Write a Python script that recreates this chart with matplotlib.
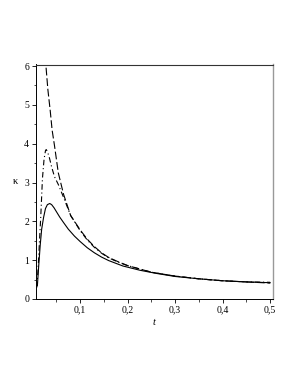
import matplotlib
matplotlib.use("Agg")
import matplotlib.pyplot as plt
from matplotlib.ticker import MultipleLocator, FuncFormatter

# κ(t) curves
t_solid = [0.010, 0.013, 0.016, 0.019, 0.023, 0.027, 0.031, 0.036, 0.040, 0.045,
           0.050, 0.057, 0.065, 0.075, 0.088, 0.100, 0.115, 0.130, 0.145, 0.160,
           0.190, 0.226, 0.260, 0.300, 0.350, 0.400, 0.450, 0.500]
k_solid = [0.35, 0.90, 1.40, 1.80, 2.10, 2.33, 2.43, 2.46, 2.43, 2.35,
           2.25, 2.11, 1.97, 1.80, 1.62, 1.48, 1.32, 1.19, 1.08, 0.99,
           0.85, 0.74, 0.66, 0.58, 0.52, 0.47, 0.44, 0.42]

t_dashdot = [0.009, 0.012, 0.0143, 0.017, 0.0206, 0.024, 0.027, 0.0285, 0.031, 0.035,
             0.040, 0.046, 0.054, 0.065, 0.080, 0.100, 0.115, 0.130, 0.145, 0.160,
             0.180, 0.200, 0.250, 0.300, 0.350, 0.400, 0.450, 0.500]
k_dashdot = [0.30, 0.90, 1.47, 2.10, 3.10, 3.60, 3.82, 3.85, 3.80, 3.65,
             3.40, 3.15, 2.95, 2.62, 2.15, 1.76, 1.52, 1.33, 1.18, 1.06,
             0.95, 0.86, 0.69, 0.59, 0.52, 0.47, 0.44, 0.43]

t_dashed = [0.026, 0.028, 0.032, 0.037, 0.041, 0.046, 0.054, 0.065, 0.080, 0.100,
            0.115, 0.130, 0.145, 0.160, 0.180, 0.200, 0.250, 0.300, 0.350, 0.400,
            0.450, 0.500]
k_dashed = [6.50, 6.00, 5.40, 4.85, 4.35, 3.95, 3.25, 2.70, 2.15, 1.78,
            1.54, 1.35, 1.19, 1.07, 0.96, 0.86, 0.69, 0.59, 0.52, 0.47,
            0.44, 0.41]

x_ticks = [0.1, 0.2, 0.3, 0.4, 0.5]
y_ticks = [0, 1, 2, 3, 4, 5, 6]

plt.rcParams["font.family"] = ["Liberation Serif", "DejaVu Serif"]

fig = plt.figure(figsize=(2.98, 3.85), dpi=100)
ax = fig.add_axes([35.5 / 298, 86 / 385, 237 / 298, 234.5 / 385])

ax.plot(t_solid, k_solid, color="black", lw=0.8)
ax.plot(t_dashdot, k_dashdot, color="black", lw=0.8, dashes=(5, 2.5, 1, 2.5))
ax.plot(t_dashed, k_dashed, color="black", lw=0.8, dashes=(7, 2.5))

ax.set_xlim(0.006, 0.505)
ax.set_ylim(0, 6.04)

ax.set_xticks(x_ticks)
ax.set_yticks(y_ticks)
ax.xaxis.set_minor_locator(MultipleLocator(0.05))
ax.yaxis.set_minor_locator(MultipleLocator(0.5))
ax.xaxis.set_major_formatter(FuncFormatter(lambda v, p: f"{v:.1f}".replace(".", ",")))
ax.yaxis.set_major_formatter(FuncFormatter(lambda v, p: f"{v:.0f}"))

ax.tick_params(which="major", direction="out", length=3, width=0.6, labelsize=7, pad=1.5)
ax.tick_params(which="minor", direction="out", length=1.8, width=0.5)

for side in ("left", "bottom"):
    ax.spines[side].set_linewidth(0.7)
    ax.spines[side].set_color("black")
ax.spines["top"].set_color("#333333")
ax.spines["top"].set_linewidth(0.8)
ax.spines["right"].set_color("#999999")
ax.spines["right"].set_linewidth(1.0)

ax.set_xlabel("t", fontsize=7.5, style="italic", labelpad=3)
ax.set_ylabel("κ", fontsize=7.5, rotation=0, labelpad=6, va="center")

fig.savefig("out.png", dpi=100)
